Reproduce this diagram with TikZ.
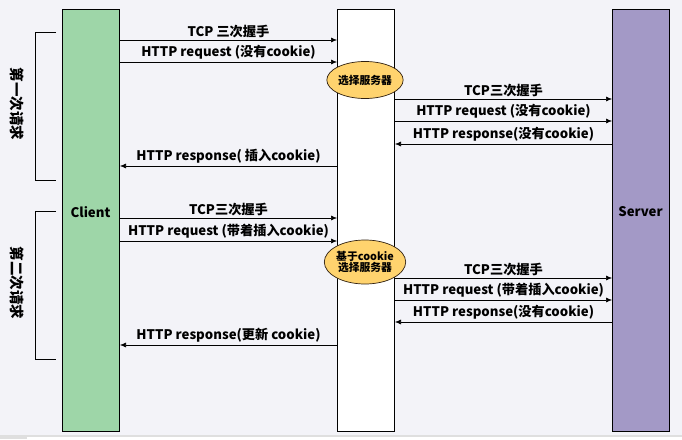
\documentclass[tikz,border=0pt]{standalone}
\usepackage{fontspec}
\setmainfont{Noto Sans CJK SC}
\usetikzlibrary{shapes.geometric, arrows.meta, positioning}
\definecolor{bgcol}{HTML}{F3F3F8}
\definecolor{clientfill}{HTML}{9ED6A8}
\definecolor{serverfill}{HTML}{A399C6}
\definecolor{pickerfill}{HTML}{FFD36E}

\begin{document}
\begin{tikzpicture}[
        x=1pt, y=-1pt,
        font=\bfseries\fontsize{13.2}{14}\selectfont,
        lifeline/.style={rectangle, draw=black, line width=1pt, minimum width=57pt, minimum height=422pt, anchor=north west, inner sep=0pt},
        picker/.style={ellipse, draw=black!75!brown, line width=0.7pt, fill=pickerfill, minimum width=56pt, minimum height=37pt, inner sep=0pt, align=center, font=\bfseries\fontsize{10.8}{11.5}\selectfont},
        msg/.style={-{Latex[length=6pt,width=5pt]}, line width=0.6pt},
        lbl/.style={above, inner sep=2pt},
        phase/.style={rotate=-90, font=\bfseries\fontsize{14.5}{15}\selectfont}
    ]
    % background and window strip
    \fill[bgcol] (0,0) rectangle (682,439);
    \fill[gray!25] (0,435) rectangle (682,439);
    \fill[white] (27,436.5) rectangle (682,439);

    % lifelines
    \node[lifeline, fill=clientfill] (client) at (62,9) {};
    \node[lifeline, fill=white] (lb) at (337,9) {};
    \node[lifeline, fill=serverfill] (server) at (612,9) {};
    \node (clientname) at (90.5,212) {Client};
    \node (servername) at (640.5,212) {Server};

    % load balancer decisions
    \node[picker] (pick1) at (365,80) {选择服务器};
    \node[picker, minimum height=44pt] (pick2) at (365,262) {基于cookie\\选择服务器};

    % first request
    \draw[msg] (client.east |- 0,40) -- node[lbl] {TCP 三次握手} (lb.west |- 0,40);
    \draw[msg] (client.east |- 0,62) -- node[lbl] {HTTP request (没有cookie)} (lb.west |- 0,62);
    \draw[msg] (lb.east |- 0,99) -- node[lbl] {TCP三次握手} (server.west |- 0,99);
    \draw[msg] (lb.east |- 0,121) -- node[lbl] {HTTP request (没有cookie)} (server.west |- 0,121);
    \draw[msg] (server.west |- 0,144) -- node[lbl] {HTTP response(没有cookie)} (lb.east |- 0,144);
    \draw[msg] (lb.west |- 0,166) -- node[lbl] {HTTP response( 插入cookie)} (client.east |- 0,166);

    % second request
    \draw[msg] (client.east |- 0,218) -- node[lbl] {TCP三次握手} (lb.west |- 0,218);
    \draw[msg] (client.east |- 0,241) -- node[lbl] {HTTP request (带着插入cookie)} (lb.west |- 0,241);
    \draw[msg] (lb.east |- 0,278) -- node[lbl] {TCP三次握手} (server.west |- 0,278);
    \draw[msg] (lb.east |- 0,300) -- node[lbl] {HTTP request (带着插入cookie)} (server.west |- 0,300);
    \draw[msg] (server.west |- 0,322) -- node[lbl] {HTTP response(没有cookie)} (lb.east |- 0,322);
    \draw[msg] (lb.west |- 0,345) -- node[lbl] {HTTP response(更新 cookie)} (client.east |- 0,345);

    % phase brackets
    \draw[line width=0.8pt] (56,32) -- (35,32) -- (35,180) -- (56,180);
    \draw[line width=0.8pt] (56,211) -- (35,211) -- (35,359) -- (56,359);
    \node[phase] (first) at (17,104) {第一次请求};
    \node[phase] (second) at (17,283) {第二次请求};
\end{tikzpicture}
\end{document}
